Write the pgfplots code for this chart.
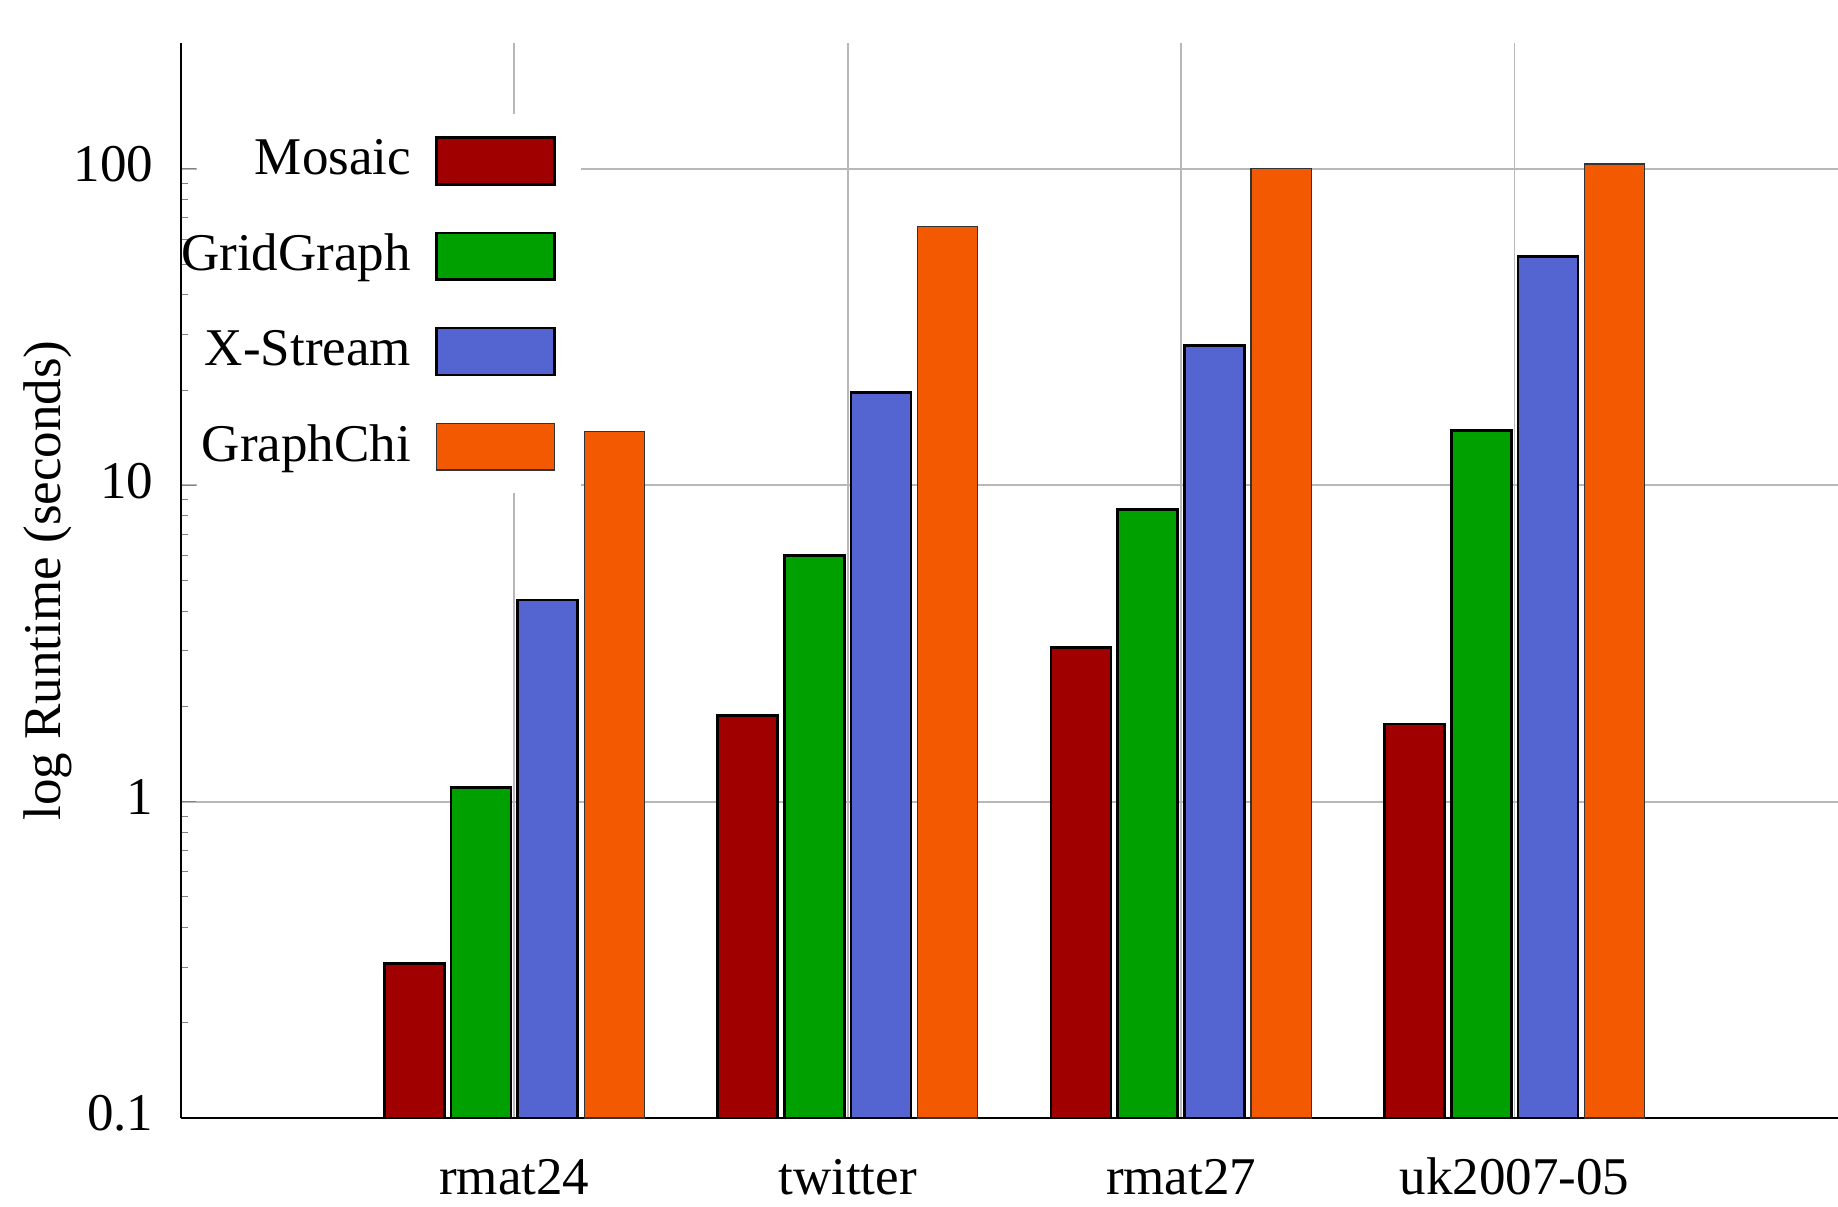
\documentclass[border=0pt]{standalone}
\usepackage{fontspec}
\setmainfont{Liberation Serif}
\usepackage{pgfplots}
\pgfplotsset{compat=1.18}
\usetikzlibrary{calc}
\definecolor{cMosaic}{HTML}{A00000}
\definecolor{cGrid}{HTML}{00A000}
\definecolor{cX}{HTML}{5465D2}
\definecolor{cChi}{HTML}{F25900}
\begin{document}
\fontsize{12pt}{14.4pt}\selectfont
\begin{tikzpicture}
\begin{axis}[
  scale only axis,
  width=374.9pt, height=243.2pt,
  xmin=0, xmax=4.97,
  ymode=log, ymin=0.1, ymax=250,
  log origin y=infty,
  axis x line*=bottom, axis y line*=left,
  tick align=inside,
  xtick={1,2,3,4},
  xticklabels={rmat24,twitter,rmat27,uk2007-05},
  xtick style={draw=none},
  ytick={0.1,1,10,100},
  yticklabels={0.1,1,10,100},
  major tick length=3.4pt, minor tick length=1.7pt,
  xmajorgrids, ymajorgrids,
  grid style={line width=0.4pt, color=black!28},
  ylabel={log Runtime (seconds)},
  every axis y label/.style={at={(rel axis cs:0,0.5)}, xshift=-27.3pt, rotate=90, anchor=base},
  x tick label style={anchor=base, yshift=-13.8pt},
  y tick label style={anchor=east, inner sep=0pt, xshift=-6pt, yshift=1pt},
  /pgf/number format/assume math mode=true,
  ybar, bar width=0.18,
  legend plot pos=right,
  legend cell align=right,
  legend image code/.code={\draw[#1] (0pt,-5.3pt) rectangle (26.7pt,5.3pt);},
  legend style={at={(rel axis cs:0.2267,0.9192)}, anchor=north east, draw=none, fill=none, inner sep=0pt, row sep=7.6pt, column sep=3.4pt},
]
\coordinate (sw) at (rel axis cs:0,0);
\coordinate (ne) at (rel axis cs:1,1);
\fill[white] (axis cs:0.05,9.44) rectangle (axis cs:1.2,149.6);
\addplot[bar shift=-0.3, fill=cMosaic, draw=black, line width=0.6pt] coordinates {(1,0.308) (2,1.87) (3,3.07) (4,1.76)};
\addlegendentry{Mosaic}
\addplot[bar shift=-0.1, fill=cGrid, draw=black, line width=0.6pt] coordinates {(1,1.11) (2,6.01) (3,8.40) (4,14.9)};
\addlegendentry{GridGraph}
\addplot[bar shift=0.1, fill=cX, draw=black, line width=0.6pt] coordinates {(1,4.34) (2,19.6) (3,27.7) (4,52.8)};
\addlegendentry{X-Stream}
\addplot[bar shift=0.3, fill=cChi, draw=black!80, line width=0.3pt] coordinates {(1,14.8) (2,65.9) (3,100.5) (4,103.5)};
\addlegendentry{GraphChi}
\end{axis}
\pgfresetboundingbox
\path ($(sw)+(-40.9pt,-19.9pt)$) rectangle ($(ne)+(0pt,9.73pt)$);
\end{tikzpicture}
\end{document}
